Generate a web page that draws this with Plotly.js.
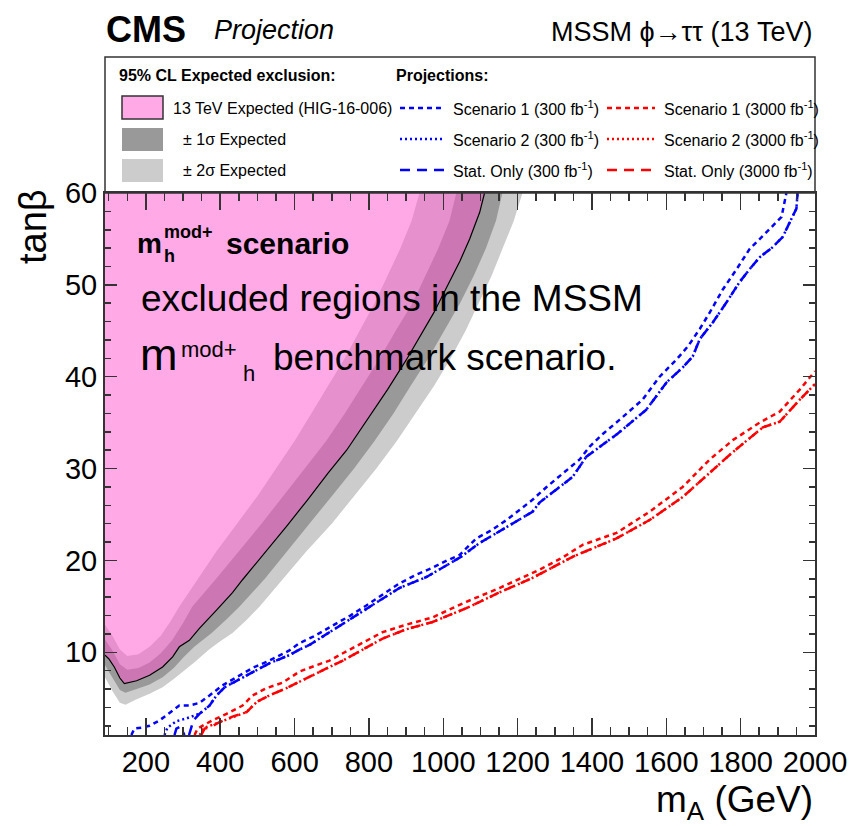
<!DOCTYPE html>
<html><head><meta charset="utf-8">
<script src="https://cdn.plot.ly/plotly-3.0.1.min.js"></script>
<style>html,body{margin:0;padding:0;background:#fff;}</style>
</head><body><div id="chart" style="width:852px;height:826px;"></div>
<script>
// ---------------- DATA ----------------
// 13 TeV expected exclusion contour (HIG-16-006)
const expX = [90,100,115,130,142,175,210,245,272,290,317,344,390,433,460,524,580,635,690,740,796,850,900,940,975,1015,1045,1071,1098,1111];
const expY = [9.7,9.3,8.4,7.2,6.6,6.9,7.5,8.4,9.5,10.6,11.3,12.6,14.6,16.5,17.9,21.0,23.8,26.6,29.5,32.0,35.3,38.6,41.8,44.6,47.0,50.2,52.6,55.0,57.9,60];

// band edge on the strong-exclusion side (inside the pink area)
const s1InX = [90,110,130,150,180,210,240,270,300,325,389,451,511,569,627,685,735,782,829,872,917,952,987,1017,1035];
const s1InY = [11.4,10.2,8.7,8.1,8.3,8.9,9.9,11.3,13.2,15.0,18.0,21.0,24.0,27.0,30.0,33.0,36.0,39.0,42.0,45.0,48.0,51.0,54.0,57.0,60];
const s2InX = [90,110,130,150,180,210,240,265,290,340,390,445,500,550,600,645,690,735,775,815,850,885,915,936];
const s2InY = [13.0,11.8,10.3,9.6,9.8,10.6,11.8,13.3,15.0,18.0,21.0,24.0,27.0,30.0,33.0,36.0,39.0,42.0,45.0,48.0,51.0,54.0,57.0,60];
// band edge on the weak-exclusion side
const s1OutX = [90,110,130,145,175,210,245,275,300,330,377,420,452,520,580,640,700,760,815,866,912,960,1003,1045,1082,1115,1142,1159];
const s1OutY = [8.6,7.3,5.9,5.6,6.0,6.5,7.3,8.3,9.4,10.6,12.1,13.7,15.0,18.0,21.0,24.0,27.0,30.0,33.0,36.0,39.0,42.0,45.0,48.0,51.0,54.0,57.0,60];
const s2OutX = [90,110,130,145,175,210,245,275,300,330,370,400,433,470,506,570,632,700,760,820,875,925,975,1020,1060,1095,1130,1160,1190,1213];
const s2OutY = [7.3,5.8,4.5,4.3,4.9,5.5,6.2,7.1,7.9,8.9,10.3,11.2,12.1,13.5,15.0,18.0,21.0,24.0,27.0,30.0,33.0,36.0,39.0,42.0,45.0,48.0,51.0,54.0,57.0,60];

// Projections, 300 fb-1
const sc1_300X = [161,169,188,210,237,272,290,317,344,371,406,444,487,532,586,613,650,702,750,793,840,882,930,971,1010,1044,1089,1130,1170,1240,1278,1320,1367,1394,1430,1474,1510,1536,1582,1628,1658,1690,1717,1752,1789,1824,1859,1890,1910,1923];
const sc1_300Y = [1.0,1.7,1.8,2.0,2.6,3.7,4.2,4.2,4.5,5.3,6.4,7.3,8.3,9.1,10.2,11.0,11.7,12.9,14.0,15.1,16.4,17.5,18.5,19.2,20.0,20.6,22.4,23.3,24.4,26.6,28.0,29.4,31.0,32.4,33.8,35.3,36.6,37.5,40.0,41.9,43.3,45.2,47.0,49.5,51.7,53.9,55.3,56.6,57.4,60];
const sc2_300X = [250,258,282,309,336,344,371,390,412,444,487,532,586,613,640,702,775,882,955,1044,1098,1170,1240,1259,1348,1385,1466,1546,1601,1644,1671,1690,1725,1762,1797,1824,1851,1886,1913,1932,1950,1953];
const sc2_300Y = [1.0,1.8,2.5,2.8,3.2,3.3,4.2,5.3,6.2,6.9,7.8,8.8,9.7,10.3,10.8,12.4,14.3,17.0,18.2,20.3,21.9,23.6,25.3,26.3,29.1,31.3,33.7,36.4,39.4,41.0,42.2,44.1,45.9,48.1,50.3,51.7,53.0,54.1,55.2,56.8,58.3,60];
const stat_300X = [277,282,292,300,304,null,316,328,344,371,390,412,444,487,532,586,613,640,702,775,882,955,1044,1098,1170,1240,1259,1348,1385,1466,1546,1601,1644,1671,1690,1725,1762,1797,1824,1851,1886,1913,1932,1950,1953];
const stat_300Y = [1.0,1.7,1.9,1.3,1.0,null,1.0,2.6,3.3,4.2,5.3,6.2,6.9,7.8,8.8,9.7,10.3,10.8,12.4,14.3,17.0,18.2,20.3,21.9,23.6,25.3,26.3,29.1,31.3,33.7,36.4,39.4,41.0,42.2,44.1,45.9,48.1,50.3,51.7,53.0,54.1,55.2,56.8,58.3,60];

// Projections, 3000 fb-1
const sc1_3000X = [331,339,352,379,417,460,487,524,568,613,659,694,730,790,837,900,971,1062,1151,1259,1320,1375,1466,1555,1644,1717,1779,1851,1905,1959,2000];
const sc1_3000Y = [1.0,1.7,2.0,2.6,3.3,4.2,5.3,6.1,6.7,7.9,8.6,9.1,9.9,11.2,12.2,13.0,13.8,15.5,17.0,19.0,20.3,21.7,23.0,25.3,28.0,31.0,33.1,35.0,36.2,38.6,40.6];
const sc2_3000X = [345,352,365,398,433,471,498,532,578,622,667,694,730,790,837,900,971,1062,1150,1240,1348,1466,1555,1644,1735,1779,1860,1905,1959,2000];
const sc2_3000Y = [1.0,1.6,1.9,2.4,3.0,3.5,4.6,5.3,6.1,7.0,7.9,8.4,9.1,10.4,11.5,12.5,13.3,14.8,16.5,18.1,20.4,22.4,24.4,26.9,30.2,31.8,34.5,35.1,37.5,39.2];
const stat_3000X = [349,358,371,398,433,471,498,532,578,622,667,694,730,790,837,900,971,1062,1150,1240,1348,1466,1555,1644,1735,1779,1860,1905,1959,2000];
const stat_3000Y = [1.0,1.7,1.8,2.4,3.0,3.5,4.6,5.3,6.1,7.0,7.9,8.4,9.1,10.4,11.5,12.5,13.3,14.8,16.5,18.1,20.4,22.4,24.4,26.9,30.2,31.8,34.5,35.1,37.5,39.2];

const xRange = [90, 2000];
const yRange = [1, 60];
const xTickStep = 200, yTickStep = 10;

// ---------------- BUILD ----------------
const FONT = "'Liberation Sans', Arial, Helvetica, sans-serif";
const BLUE = '#0000ff', RED = '#ff0000';
const DASH_S1 = '5px,4px', DASH_S2 = '2px,3px', DASH_STAT = '10px,7px';

function band(inX, inY, outX, outY) {
  return { x: inX.concat(outX.slice().reverse()), y: inY.concat(outY.slice().reverse()) };
}
const b2 = band(s2InX, s2InY, s2OutX, s2OutY);
const b1 = band(s1InX, s1InY, s1OutX, s1OutY);

const traces = [
  {x: b2.x, y: b2.y, type: 'scatter', mode: 'lines', fill: 'toself', fillcolor: '#cccccc', line: {width: 0}, hoverinfo: 'skip'},
  {x: b1.x, y: b1.y, type: 'scatter', mode: 'lines', fill: 'toself', fillcolor: '#999999', line: {width: 0}, hoverinfo: 'skip'},
  {x: expX.concat([xRange[0]]), y: expY.concat([yRange[1]]), type: 'scatter', mode: 'lines', fill: 'toself', fillcolor: 'rgba(255,85,205,0.5)', line: {width: 0}, hoverinfo: 'skip'},
  {x: expX, y: expY, type: 'scatter', mode: 'lines', line: {color: '#000', width: 1.2}},
  {x: sc1_300X, y: sc1_300Y, type: 'scatter', mode: 'lines', line: {color: BLUE, width: 2.5, dash: DASH_S1}},
  {x: sc2_300X, y: sc2_300Y, type: 'scatter', mode: 'lines', line: {color: BLUE, width: 2.5, dash: DASH_S2}},
  {x: stat_300X, y: stat_300Y, type: 'scatter', mode: 'lines', connectgaps: false, line: {color: BLUE, width: 2.5, dash: DASH_STAT}},
  {x: sc1_3000X, y: sc1_3000Y, type: 'scatter', mode: 'lines', line: {color: RED, width: 2.5, dash: DASH_S1}},
  {x: sc2_3000X, y: sc2_3000Y, type: 'scatter', mode: 'lines', line: {color: RED, width: 2.5, dash: DASH_S2}},
  {x: stat_3000X, y: stat_3000Y, type: 'scatter', mode: 'lines', line: {color: RED, width: 2.5, dash: DASH_STAT}}
];

// pixel -> paper helpers for decorations
const L = 105, R = 37, T = 193, B = 91, W = 852, H = 826;
const PW = W - L - R, PH = H - T - B;
const X = px => (px - L) / PW;
const Y = py => (H - B - py) / PH;

function txt(text, px, py, size, opts) {
  return Object.assign({text: text, x: X(px), y: Y(py), xref: 'paper', yref: 'paper', showarrow: false,
    xanchor: 'left', yanchor: 'middle', font: {family: FONT, size: size, color: '#000'}}, opts || {});
}

const annotations = [
  txt('<b>CMS</b>', 104, 29.5, 36),
  txt('<i>Projection</i>', 212, 30.5, 27),
  txt('MSSM \u03d5\u2192\u03c4\u03c4 (13 TeV)', 815, 31.5, 27, {xanchor: 'right'}),
  // legend
  txt('<b>95% CL Expected exclusion:</b>', 117, 75, 16),
  txt('<b>Projections:</b>', 394, 75, 16),
  txt('13 TeV Expected (HIG-16-006)', 171, 108, 16),
  txt('\u00b1 1\u03c3 Expected', 181, 139, 16),
  txt('\u00b1 2\u03c3 Expected', 181, 170, 16),
  txt('Scenario 1 (300 fb<sup>-1</sup>)', 451, 108, 16),
  txt('Scenario 2 (300 fb<sup>-1</sup>)', 451, 139, 16),
  txt('Stat. Only (300 fb<sup>-1</sup>)', 451, 170, 16),
  txt('Scenario 1 (3000 fb<sup>-1</sup>)', 662, 108, 16),
  txt('Scenario 2 (3000 fb<sup>-1</sup>)', 662, 139, 16),
  txt('Stat. Only (3000 fb<sup>-1</sup>)', 662, 170, 16),
  // in-plot texts
  txt('<b>m</b>', 135, 244, 28),
  txt('<b>mod+</b>', 162, 231.5, 18),
  txt('<b>h</b>', 162, 255.5, 18),
  txt('<b>scenario</b>', 224, 243.5, 30),
  txt('excluded regions in the MSSM', 139, 298, 37),
  txt('m', 138, 354, 45),
  txt('mod+', 179, 349, 22),
  txt('h', 241, 373, 22),
  txt('benchmark scenario.', 271, 357, 37),
  // axis titles
  txt('tan\u03b2', 33, 227, 38, {xanchor: 'center', textangle: -90}),
  txt('m<sub>A</sub> (GeV)', 815, 802, 37, {xanchor: 'right'})
];

function lineShape(x0, x1, py, color, dash) {
  return {type: 'line', xref: 'paper', yref: 'paper', x0: X(x0), x1: X(x1), y0: Y(py), y1: Y(py),
    line: {color: color, width: 2.5, dash: dash}};
}
function rectShape(x0, x1, y0, y1, fill, lc, lw) {
  return {type: 'rect', xref: 'paper', yref: 'paper', x0: X(x0), x1: X(x1), y0: Y(y1), y1: Y(y0),
    fillcolor: fill, line: {color: lc || fill, width: lw || 0}};
}

const shapes = [
  rectShape(105, 815, 57, 193, 'rgba(0,0,0,0)', '#333', 1.5),
  rectShape(122, 163, 96, 119, 'rgb(255,170,230)', '#333', 1.5),
  rectShape(122, 163, 128, 151, '#999999'),
  rectShape(122, 163, 159, 182, '#cccccc'),
  lineShape(400, 445, 108, BLUE, DASH_S1),
  lineShape(400, 445, 139, BLUE, DASH_S2),
  lineShape(400, 445, 170, BLUE, DASH_STAT),
  lineShape(607, 655, 108, RED, DASH_S1),
  lineShape(607, 655, 139, RED, DASH_S2),
  lineShape(607, 655, 170, RED, DASH_STAT)
];

const axisCommon = {
  showgrid: false, zeroline: false, showline: true, linecolor: '#333', linewidth: 2,
  mirror: 'allticks', ticks: 'inside', tickcolor: '#333', tickwidth: 1.5,
  tickfont: {family: FONT, size: 29, color: '#000'}
};

const layout = {
  width: W, height: H,
  margin: {l: L, r: R, t: T, b: B, pad: 0},
  paper_bgcolor: '#fff', plot_bgcolor: '#fff',
  showlegend: false,
  xaxis: Object.assign({}, axisCommon, {range: xRange, tick0: 0, dtick: xTickStep, ticklen: 17,
    minor: {dtick: 50, ticklen: 8, ticks: 'inside', tickcolor: '#333', tickwidth: 1.5, showgrid: false}}),
  yaxis: Object.assign({}, axisCommon, {range: yRange, tick0: 0, dtick: yTickStep, ticklen: 12,
    minor: {dtick: 2, ticklen: 6, ticks: 'inside', tickcolor: '#333', tickwidth: 1.5, showgrid: false}}),
  annotations: annotations,
  shapes: shapes
};

Plotly.newPlot('chart', traces, layout, {staticPlot: true, displayModeBar: false});
</script></body></html>
